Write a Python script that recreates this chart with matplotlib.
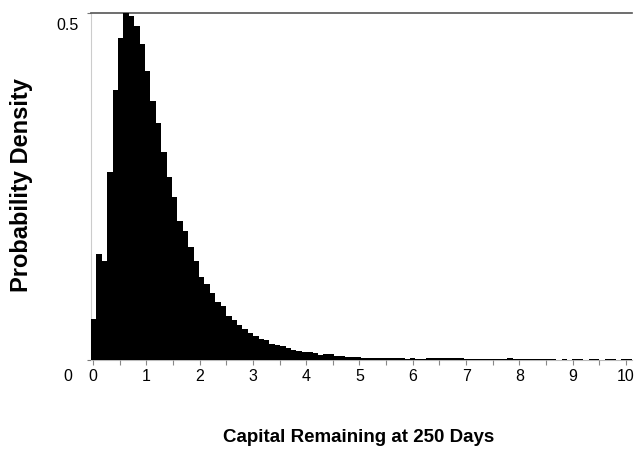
import numpy as np
import matplotlib
matplotlib.use('Agg')
import matplotlib.pyplot as plt
import matplotlib.transforms as mtransforms

plt.rcParams['font.family'] = ['Liberation Sans', 'DejaVu Sans']

# probability density per bin (bins of ~0.1 starting at 0)
density = [
    0.059, 0.152, 0.142, 0.271, 0.389, 0.464, 0.500, 0.495, 0.481, 0.455,
    0.416, 0.373, 0.341, 0.300, 0.263, 0.234, 0.200, 0.185, 0.162, 0.142,
    0.119, 0.110, 0.096, 0.083, 0.077, 0.064, 0.057, 0.050, 0.045, 0.039,
    0.034, 0.030, 0.029, 0.023, 0.021, 0.020, 0.017, 0.014, 0.013, 0.012,
    0.011, 0.0096, 0.0075, 0.0082, 0.0080, 0.0060, 0.0058, 0.0050, 0.0046, 0.0036,
    0.0034, 0.0034, 0.0033, 0.0034, 0.0030, 0.0025, 0.0035, 0.0022, 0.0020, 0.0022,
    0.0020, 0.0020, 0.0026, 0.0025, 0.0028, 0.0028, 0.0028, 0.0028, 0.0026, 0.0016,
    0.0016, 0.0016, 0.0016, 0.0016, 0.0016, 0.0016, 0.0016, 0.0030, 0.0016, 0.0016,
    0.0016, 0.0016, 0.0016, 0.0016, 0.0016, 0.0016, 0.0, 0.0016, 0.0, 0.0016,
    0.0016, 0.0, 0.0016, 0.0016, 0.0, 0.0016, 0.0016, 0.0, 0.0016, 0.0016,
]
x_ticks = list(range(11))
x_labels = [str(t) for t in x_ticks]
y_ticks = [0, 0.5]
y_labels = ['0', '0.5']

bin_start = -0.04
bin_w = 0.1015

W, H = 641, 476
fig = plt.figure(figsize=(W / 100, H / 100), dpi=100)
ax = fig.add_axes([91 / W, (H - 360) / H, (632 - 91) / W, (360 - 12.5) / H])

lefts = bin_start + bin_w * np.arange(len(density))
bars = ax.bar(lefts, density, width=bin_w, align='edge', color='black',
              linewidth=0, antialiased=False, zorder=3)

ax.set_xlim(-0.0375, 10.113)
ax.set_ylim(0, 0.5)

# spines
ax.spines['right'].set_visible(False)
ax.spines['top'].set_color('#555555')
ax.spines['top'].set_linewidth(1.2)
ax.spines['left'].set_color('#cccccc')
ax.spines['left'].set_linewidth(0.8)
ax.spines['bottom'].set_color('#bbbbbb')
ax.spines['bottom'].set_linewidth(0.8)
ax.spines['bottom'].set_zorder(1)

# x ticks
ax.set_xticks(x_ticks)
ax.set_xticklabels(x_labels)
ax.set_xticks(np.arange(0.5, 10, 1), minor=True)
ax.tick_params(axis='x', which='both', direction='out', length=3.6, width=0.8,
               color='#888888', labelsize=11.5, pad=3)

# y ticks
ax.set_yticks(y_ticks)
ax.set_yticklabels(y_labels)
ax.tick_params(axis='y', direction='out', length=3, width=0.8,
               color='#777777', labelsize=11.5, pad=14)
shifts = [-15, -11]
for lab, dy in zip(ax.get_yticklabels(), shifts):
    lab.set_ha('center')
    lab.set_transform(lab.get_transform() +
                      mtransforms.ScaledTranslation(0, dy / 100, fig.dpi_scale_trans))

fig.text(359 / W, (H - 437) / H, 'Capital Remaining at 250 Days',
         ha='center', va='center', fontsize=13.5, fontweight='bold')
fig.text(22 / W, (H - 185) / H, 'Probability Density', rotation=90,
         ha='center', va='center', fontsize=17, fontweight='bold')

fig.savefig('out.png', dpi=100)
